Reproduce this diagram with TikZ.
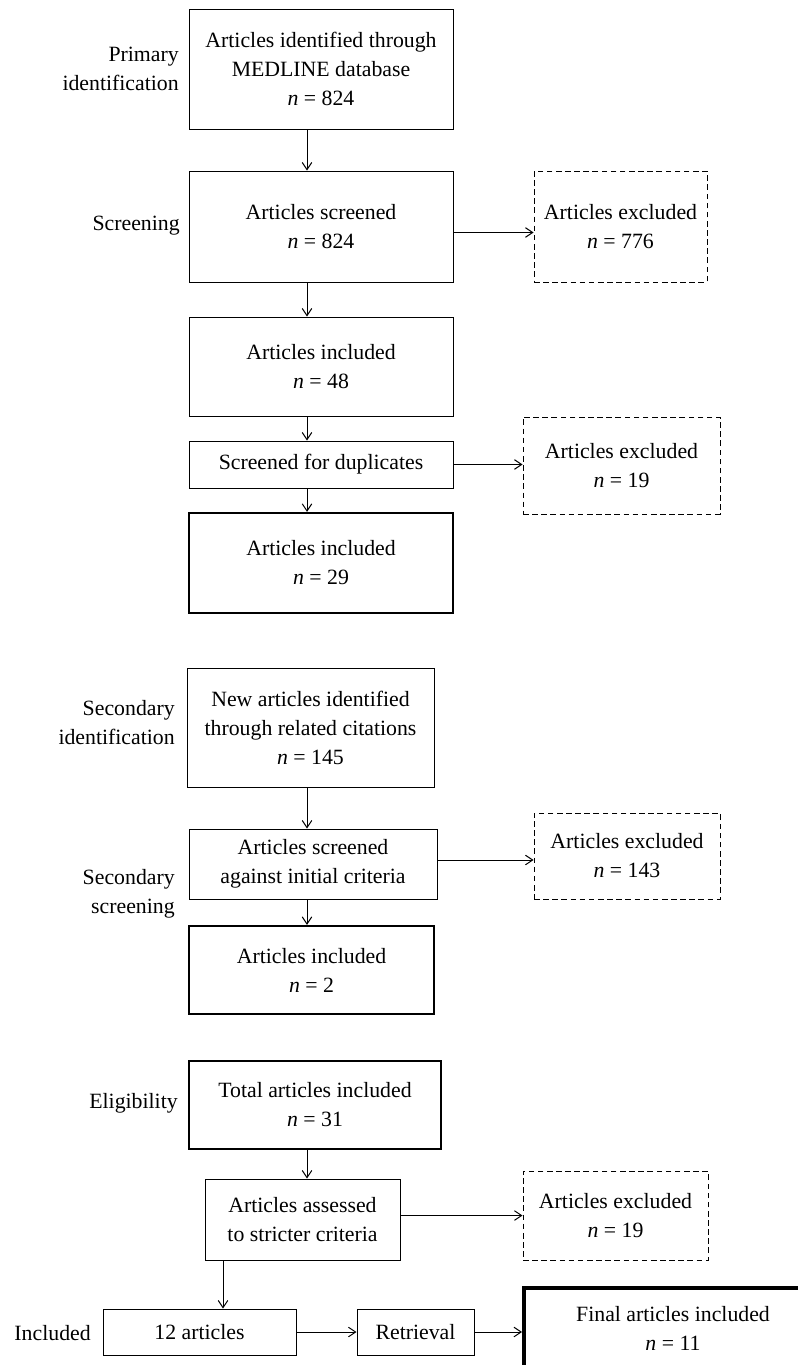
\documentclass[tikz,border=0pt]{standalone}
\usepackage{fontspec}
\setmainfont{Liberation Serif}
\usetikzlibrary{arrows.meta}

\begin{document}
\begin{tikzpicture}[
        font=\fontsize{15.5}{20.6}\selectfont,
        box/.style={draw, line width=0.7pt, align=center, inner sep=0pt},
        keptbox/.style={box, line width=1.6pt},
        outbox/.style={box, dash pattern=on 4pt off 2.5pt},
        stage/.style={anchor=east, align=right, inner sep=0pt},
        arr/.style={-{Straight Barb[length=1.8mm,width=2.4mm]}, line width=0.7pt}
    ]
        \useasboundingbox (0,0) rectangle (19.95,-34.125);
        \coordinate (spine) at (7.675,0); % column of the downward arrows
        \coordinate (drop) at (5.575,0);

        % primary search
        \node[box, minimum width=6.6cm, minimum height=3cm] (id1) at (8.025,-1.725) {Articles identified through\\MEDLINE database\\\textit{n} = 824};
        \node[box, minimum width=6.6cm, minimum height=2.775cm] (scr1) at (8.025,-5.6625) {Articles screened\\\textit{n} = 824};
        \node[outbox, minimum width=4.325cm, minimum height=2.775cm] (exc1) at (15.5125,-5.6625) {Articles excluded\\\textit{n} = 776};
        \node[box, minimum width=6.6cm, minimum height=2.475cm] (inc1) at (8.025,-9.1625) {Articles included\\\textit{n} = 48};
        \node[box, minimum width=6.6cm, minimum height=1.175cm] (dup) at (8.025,-11.6125) {Screened for duplicates};
        \node[outbox, minimum width=4.925cm, minimum height=2.425cm] (exc2) at (15.5375,-11.6375) {Articles excluded\\\textit{n} = 19};
        \node[keptbox, minimum width=6.6cm, minimum height=2.5cm] (inc2) at (8.025,-14.075) {Articles included\\\textit{n} = 29};

        % secondary search
        \node[box, minimum width=6.175cm, minimum height=2.975cm] (id2) at (7.7625,-18.1875) {New articles identified\\through related citations\\\textit{n} = 145};
        \node[box, minimum width=6.2cm, minimum height=1.75cm] (scr2) at (7.825,-21.6) {Articles screened\\against initial criteria};
        \node[outbox, minimum width=4.65cm, minimum height=2.15cm] (exc3) at (15.675,-21.4) {Articles excluded\\\textit{n} = 143};
        \node[keptbox, minimum width=6.125cm, minimum height=2.2cm] (inc3) at (7.7875,-24.25) {Articles included\\\textit{n} = 2};

        % eligibility
        \node[keptbox, minimum width=6.3cm, minimum height=2.2cm] (tot) at (7.875,-27.625) {Total articles included\\\textit{n} = 31};
        \node[box, minimum width=4.875cm, minimum height=2.025cm] (ass) at (7.5625,-30.4875) {Articles assessed\\to stricter criteria};
        \node[outbox, minimum width=4.625cm, minimum height=2.225cm] (exc4) at (15.3875,-30.3875) {Articles excluded\\\textit{n} = 19};
        \node[box, minimum width=4.825cm, minimum height=1.15cm] (art12) at (4.9875,-33.3) {12 articles};
        \node[box, minimum width=2.925cm, minimum height=1.15cm] (ret) at (10.3875,-33.3) {Retrieval};
        \node[box, line width=2.8pt, minimum width=7.45cm, minimum height=2cm] (fin) at (16.825,-33.2) {Final articles included\\\textit{n} = 11};

        % stage labels
        \node[stage] (lab1) at (4.475,-1.725) {Primary\\identification};
        \node[stage] (lab2) at (4.5,-5.65) {Screening};
        \node[stage] (lab3) at (4.375,-18.075) {Secondary\\identification};
        \node[stage] (lab4) at (4.375,-22.35) {Secondary\\screening};
        \node[stage] (lab5) at (4.45,-27.575) {Eligibility};
        \node[stage] (lab6) at (2.275,-33.325) {Included};

        % arrows
        \draw[arr] (id1.south -| spine) -- (scr1.north -| spine);
        \draw[arr] (scr1.south -| spine) -- (inc1.north -| spine);
        \draw[arr] (inc1.south -| spine) -- (dup.north -| spine);
        \draw[arr] (dup.south -| spine) -- (inc2.north -| spine);
        \draw[arr] (id2.south -| spine) -- (scr2.north -| spine);
        \draw[arr] (scr2.south -| spine) -- (inc3.north -| spine);
        \draw[arr] (tot.south -| spine) -- (ass.north -| spine);
        \draw[arr] ([yshift=-0.15cm]scr1.east) -- ([yshift=-0.15cm]scr1.east -| exc1.west);
        \draw[arr] (dup.east) -- (dup.east -| exc2.west);
        \draw[arr] ([yshift=0.1cm]scr2.east) -- ([yshift=0.1cm]scr2.east -| exc3.west);
        \draw[arr] ([yshift=0.1cm]ass.east) -- ([yshift=0.1cm]ass.east -| exc4.west);
        \draw[arr] (ass.south -| drop) -- (art12.north -| drop);
        \draw[arr] (art12.east) -- (ret.west);
        \draw[arr] (ret.east) -- (ret.east -| fin.west);
    \end{tikzpicture}
\end{document}
